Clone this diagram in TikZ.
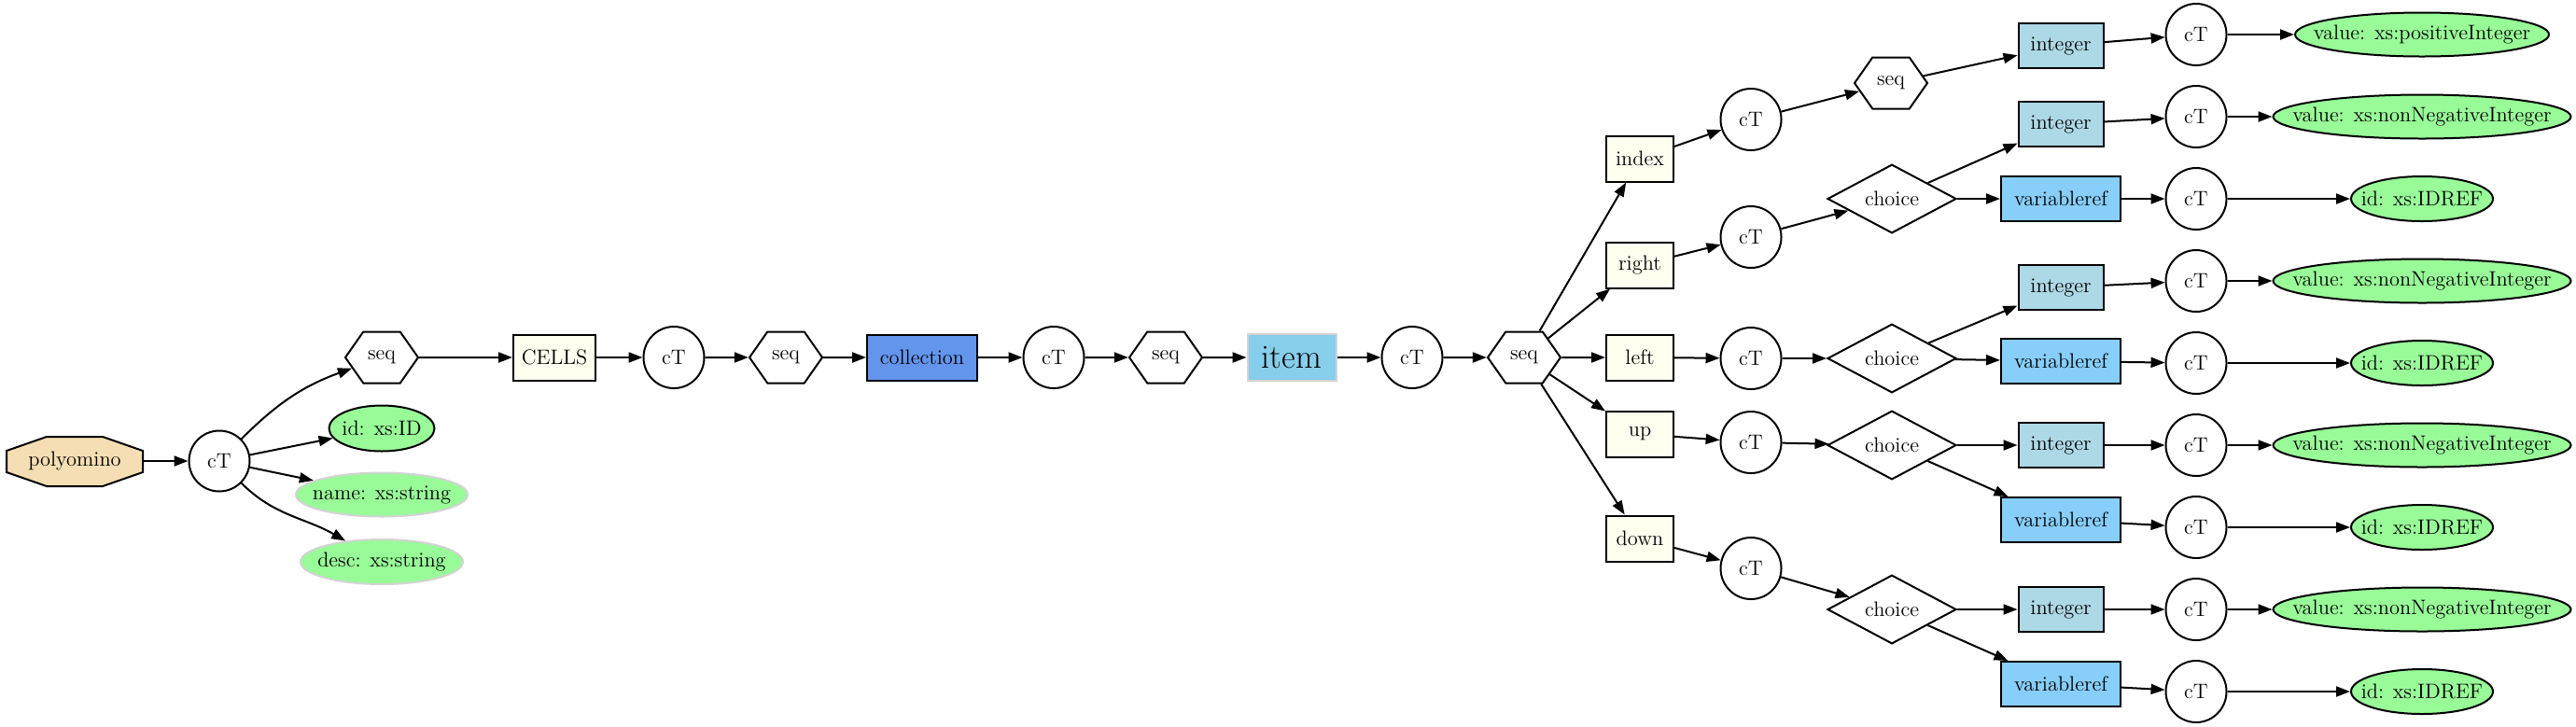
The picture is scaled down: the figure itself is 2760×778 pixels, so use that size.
\documentclass[tikz,border=0pt]{standalone}
\usetikzlibrary{shapes.geometric,shapes.symbols,arrows.meta}
\definecolor{wheatc}{HTML}{F5DEB3}
\definecolor{ivoryc}{HTML}{FFFFF0}
\definecolor{cornc}{HTML}{6495ED}
\definecolor{skyc}{HTML}{87CEEB}
\definecolor{lblue}{HTML}{ADD8E6}
\definecolor{lsky}{HTML}{87CEFA}
\definecolor{pgreen}{HTML}{98FB98}
\definecolor{lgray}{HTML}{D3D3D3}
\newcommand\mbx[1]{\makebox[0pt]{#1}}
\begin{document}
\begin{tikzpicture}[x=0.5pt,y=0.5pt,
  base/.style={font=\fontsize{11.2}{13}\selectfont, inner sep=0pt, line width=1pt},
  ctn/.style={base, ellipse, draw, minimum width=32.5pt, minimum height=33pt},
  hexn/.style={base, signal, signal to=east and west, signal pointer angle=110, draw, minimum width=39pt, minimum height=27.5pt},
  elemn/.style={base, rectangle, draw, fill=ivoryc, minimum width=36pt, minimum height=24.5pt},
  choicen/.style={base, diamond, draw, minimum width=69pt, minimum height=33.5pt},
  intn/.style={base, rectangle, draw, fill=lblue, minimum width=45.5pt, minimum height=24pt},
  varn/.style={base, rectangle, draw, fill=lsky, minimum width=64pt, minimum height=24pt},
  attn/.style={base, ellipse, draw, fill=pgreen, minimum height=23.5pt},
  optn/.style={base, ellipse, draw=lgray, fill=pgreen, minimum height=23.5pt},
  conn/.style={-{Triangle[length=7.5pt,width=5.5pt]}, line width=1pt},
]
\useasboundingbox (0,0) rectangle (2760,-778);
% left part
\draw[base, fill=wheatc] (7,-483) -- (50,-468) -- (110,-468) -- (153,-483) -- (153,-506) -- (110,-521) -- (50,-521) -- (7,-506) -- cycle;
\node[base, minimum width=73pt, minimum height=26.5pt] (poly) at (80,-494) {polyomino};
\node[ctn, minimum width=32.5pt, minimum height=32.5pt] (ct1) at (235,-494) {cT};
\node[hexn] (seq1) at (409,-383) {seq};
\node[attn, minimum width=56.5pt, minimum height=24.5pt] (id1) at (409,-459) {\mbx{id: xs:ID}};
\node[optn, minimum width=92pt] (name) at (409,-530) {\mbx{name: xs:string}};
\node[optn, minimum width=87pt, minimum height=24pt] (desc) at (409,-602) {\mbx{desc: xs:string}};
% main row
\node[elemn, minimum width=44pt] (cells) at (594,-383) {CELLS};
\node[ctn] (ct2) at (722,-383) {cT};
\node[hexn] (seq2) at (842,-383) {seq};
\node[base, rectangle, draw, fill=cornc, minimum width=59pt, minimum height=24.5pt] (coll) at (988,-383) {collection};
\node[ctn] (ct3) at (1129,-383) {cT};
\node[hexn] (seq3) at (1249,-383) {seq};
\node[base, rectangle, draw=lgray, fill=skyc, minimum width=47.5pt, minimum height=25pt, font=\fontsize{18}{20}\selectfont] (item) at (1384,-383) {item};
\node[ctn] (ct4) at (1513,-383) {cT};
\node[hexn] (seq4) at (1633,-383) {seq};
% children of item
\node[elemn] (index) at (1757,-170) {index};
\node[elemn] (right) at (1757,-284) {right};
\node[elemn] (left) at (1757,-383) {left};
\node[elemn] (up) at (1757,-465) {up};
\node[elemn] (down) at (1757,-577) {down};
\node[ctn] (cti) at (1876,-128) {cT};
\node[ctn] (ctr) at (1876,-254) {cT};
\node[ctn] (ctl) at (1876,-384) {cT};
\node[ctn] (ctu) at (1876,-474) {cT};
\node[ctn] (ctd) at (1876,-609) {cT};
\node[hexn] (seq5) at (2026,-89) {seq};
\node[choicen] (chr) at (2027,-213) {choice};
\node[choicen] (chl) at (2027,-384) {choice};
\node[choicen] (chu) at (2027,-477) {choice};
\node[choicen] (chd) at (2027,-653) {choice};
\node[intn] (int1) at (2208,-49) {integer};
\node[intn] (int2) at (2208,-133) {integer};
\node[varn] (var1) at (2208,-213) {variableref};
\node[intn] (int3) at (2208,-308) {integer};
\node[varn] (var2) at (2208,-387) {variableref};
\node[intn] (int4) at (2208,-477) {integer};
\node[varn] (var3) at (2208,-557) {variableref};
\node[intn] (int5) at (2208,-653) {integer};
\node[varn] (var4) at (2208,-733) {variableref};
\node[ctn] (c1) at (2353,-37) {cT};
\node[ctn] (c2) at (2353,-125) {cT};
\node[ctn] (c3) at (2353,-213) {cT};
\node[ctn] (c4) at (2353,-301) {cT};
\node[ctn] (c5) at (2353,-389) {cT};
\node[ctn] (c6) at (2353,-477) {cT};
\node[ctn] (c7) at (2353,-565) {cT};
\node[ctn] (c8) at (2353,-653) {cT};
\node[ctn] (c9) at (2353,-741) {cT};
\node[attn, minimum width=136pt] (v1) at (2595,-37) {\mbx{value: xs:positiveInteger}};
\node[attn, minimum width=159.5pt] (v2) at (2595,-125) {\mbx{value: xs:nonNegativeInteger}};
\node[attn, minimum width=76pt, minimum height=24pt] (d1) at (2595,-213) {\mbx{id: xs:IDREF}};
\node[attn, minimum width=159.5pt] (v3) at (2595,-301) {\mbx{value: xs:nonNegativeInteger}};
\node[attn, minimum width=76pt, minimum height=24pt] (d2) at (2595,-389) {\mbx{id: xs:IDREF}};
\node[attn, minimum width=159.5pt] (v4) at (2595,-477) {\mbx{value: xs:nonNegativeInteger}};
\node[attn, minimum width=76pt, minimum height=24pt] (d3) at (2595,-565) {\mbx{id: xs:IDREF}};
\node[attn, minimum width=159.5pt] (v5) at (2595,-653) {\mbx{value: xs:nonNegativeInteger}};
\node[attn, minimum width=76pt, minimum height=24pt] (d4) at (2595,-741) {\mbx{id: xs:IDREF}};
% connectors
\draw[conn] (poly) -- (ct1);
\draw[conn] (ct1) to[out=45,in=200] (seq1);
\draw[conn] (ct1) -- (id1);
\draw[conn] (ct1) -- (name);
\draw[conn] (ct1) to[out=-45,in=150] (desc);
\draw[conn] (seq1) -- (cells);
\draw[conn] (cells) -- (ct2);
\draw[conn] (ct2) -- (seq2);
\draw[conn] (seq2) -- (coll);
\draw[conn] (coll) -- (ct3);
\draw[conn] (ct3) -- (seq3);
\draw[conn] (seq3) -- (item);
\draw[conn] (item) -- (ct4);
\draw[conn] (ct4) -- (seq4);
\draw[conn] (seq4) -- (index);
\draw[conn] (seq4) -- (right);
\draw[conn] (seq4) -- (left);
\draw[conn] (seq4) -- (up);
\draw[conn] (seq4) -- (down);
\draw[conn] (index) -- (cti);
\draw[conn] (right) -- (ctr);
\draw[conn] (left) -- (ctl);
\draw[conn] (up) -- (ctu);
\draw[conn] (down) -- (ctd);
\draw[conn] (cti) -- (seq5);
\draw[conn] (ctr) -- (chr);
\draw[conn] (ctl) -- (chl);
\draw[conn] (ctu) -- (chu);
\draw[conn] (ctd) -- (chd);
\draw[conn] (seq5) -- (int1);
\draw[conn] (chr) -- (int2);
\draw[conn] (chr) -- (var1);
\draw[conn] (chl) -- (int3);
\draw[conn] (chl) -- (var2);
\draw[conn] (chu) -- (int4);
\draw[conn] (chu) -- (var3);
\draw[conn] (chd) -- (int5);
\draw[conn] (chd) -- (var4);
\draw[conn] (int1) -- (c1);
\draw[conn] (int2) -- (c2);
\draw[conn] (var1) -- (c3);
\draw[conn] (int3) -- (c4);
\draw[conn] (var2) -- (c5);
\draw[conn] (int4) -- (c6);
\draw[conn] (var3) -- (c7);
\draw[conn] (int5) -- (c8);
\draw[conn] (var4) -- (c9);
\draw[conn] (c1) -- (v1);
\draw[conn] (c2) -- (v2);
\draw[conn] (c3) -- (d1);
\draw[conn] (c4) -- (v3);
\draw[conn] (c5) -- (d2);
\draw[conn] (c6) -- (v4);
\draw[conn] (c7) -- (d3);
\draw[conn] (c8) -- (v5);
\draw[conn] (c9) -- (d4);
\end{tikzpicture}
\end{document}
